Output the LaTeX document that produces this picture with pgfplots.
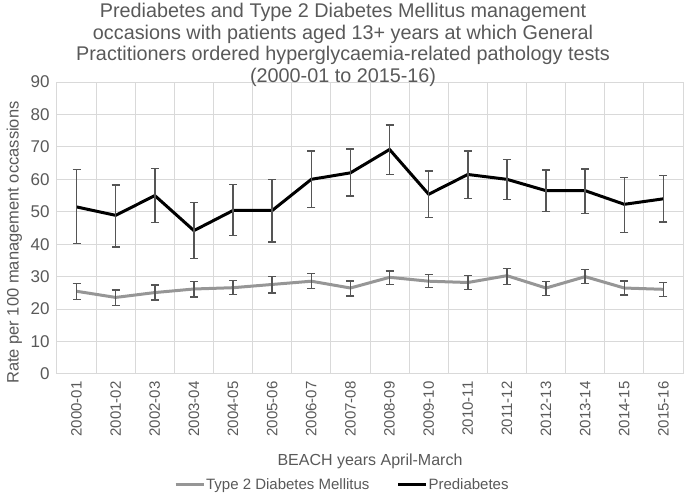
\documentclass[border=0pt]{standalone}
\usepackage{pgfplots}
\pgfplotsset{compat=1.18}
\usepackage{pgfplotstable}
\usepackage{fontspec}
\setmainfont{Liberation Sans}
\definecolor{txt}{HTML}{595959}
\definecolor{gridc}{HTML}{D9D9D9}
\definecolor{tdm}{HTML}{969696}
\definecolor{errc}{HTML}{555555}

\pgfplotstableread{
x y ep em
0 25.5 2.4 2.5
1 23.6 2.3 2.4
2 25.1 2.3 2.3
3 26.2 2.4 2.5
4 26.6 2.2 2.1
5 27.6 2.4 2.6
6 28.6 2.4 2.3
7 26.5 2.2 2.5
8 29.8 1.9 2.2
9 28.6 2.1 2.0
10 28.2 2.1 2.1
11 30.3 2.3 2.7
12 26.5 2.0 2.3
13 30.0 2.2 2.1
14 26.5 2.2 2.2
15 26.1 2.1 2.2
}\tdmdata

\pgfplotstableread{
x y ep em
0 51.5 11.5 11.3
1 48.9 9.3 9.7
2 55.0 8.4 8.3
3 44.2 8.7 8.6
4 50.4 8.1 7.8
5 50.4 9.5 9.7
6 60.0 8.7 8.7
7 62.0 7.3 7.1
8 69.2 7.5 7.7
9 55.4 7.2 7.1
10 61.5 7.2 7.4
11 60.0 6.2 6.2
12 56.5 6.4 6.4
13 56.5 6.7 7.1
14 52.3 8.3 8.7
15 54.0 7.2 7.2
}\predata

\begin{document}
\begin{tikzpicture}
\useasboundingbox (-57pt,-120pt) rectangle (628pt,374pt);
\begin{axis}[
  at={(0,0)}, anchor=south west,
  scale only axis,
  width=626pt, height=292pt,
  xmin=-0.5, xmax=15.5,
  ymin=0, ymax=90,
  ytick={0,10,...,90},
  xtick={0,...,15},
  xticklabels={2000-01,2001-02,2002-03,2003-04,2004-05,2005-06,2006-07,2007-08,2008-09,2009-10,2010-11,2011-12,2012-13,2013-14,2014-15,2015-16},
  minor xtick={-0.5,0.5,...,15.5},
  xminorgrids=true, ymajorgrids=true, xmajorgrids=false,
  grid style={gridc, line width=1pt},
  minor grid style={gridc, line width=1pt},
  axis line style={gridc, line width=1pt},
  major tick length=0pt, minor tick length=0pt,
  tick style={draw=none},
  /pgf/number format/assume math mode=true,
  yticklabel style={font=\fontsize{17}{19}\selectfont, text=txt, xshift=-4pt},
  xticklabel style={font=\fontsize{15}{17}\selectfont, text=txt, rotate=90, anchor=east, xshift=-4pt},
  xlabel={BEACH years April-March},
  ylabel={Rate per 100 management occassions},
  xlabel style={font=\fontsize{16}{19}\selectfont, text=txt, at={(rel axis cs:0.5,0)}, anchor=center, yshift=-87pt},
  ylabel style={font=\fontsize{16.5}{19}\selectfont, text=txt, at={(rel axis cs:-0.068,0.45)}, anchor=center, rotate=0},
  title={Prediabetes and Type 2 Diabetes Mellitus management\\occasions with patients aged 13+ years at which General\\Practitioners ordered hyperglycaemia-related pathology tests\\(2000-01 to 2015-16)},
  title style={font=\fontsize{19.8}{21.5}\selectfont, text=txt, align=center, at={(rel axis cs:0.457,1)}, anchor=south, yshift=-14pt},
  legend style={at={(rel axis cs:0.455,-0.38)}, anchor=center, draw=none, fill=none,
    legend columns=2, font=\fontsize{15}{18}\selectfont, text=txt,
    nodes={inner xsep=1pt},
    /tikz/every even column/.append style={column sep=26pt}},
  legend cell align=left,
  legend image code/.code={\draw[#1, line width=3pt] (0pt,0pt) -- (28pt,0pt);},
  clip=false,
]
\addplot[tdm, line width=3pt, no markers,
  error bars/.cd, y dir=both, y explicit,
  error bar style={errc, line width=1.4pt},
  error mark options={rotate=90, mark size=4pt, errc, line width=1.4pt}]
  table[x=x, y=y, y error plus=ep, y error minus=em] {\tdmdata};
\addlegendentry{Type 2 Diabetes Mellitus}
\addplot[black, line width=3pt, no markers,
  error bars/.cd, y dir=both, y explicit,
  error bar style={errc, line width=1.4pt},
  error mark options={rotate=90, mark size=4pt, errc, line width=1.4pt}]
  table[x=x, y=y, y error plus=ep, y error minus=em] {\predata};
\addlegendentry{Prediabetes}
\end{axis}
\end{tikzpicture}
\end{document}
